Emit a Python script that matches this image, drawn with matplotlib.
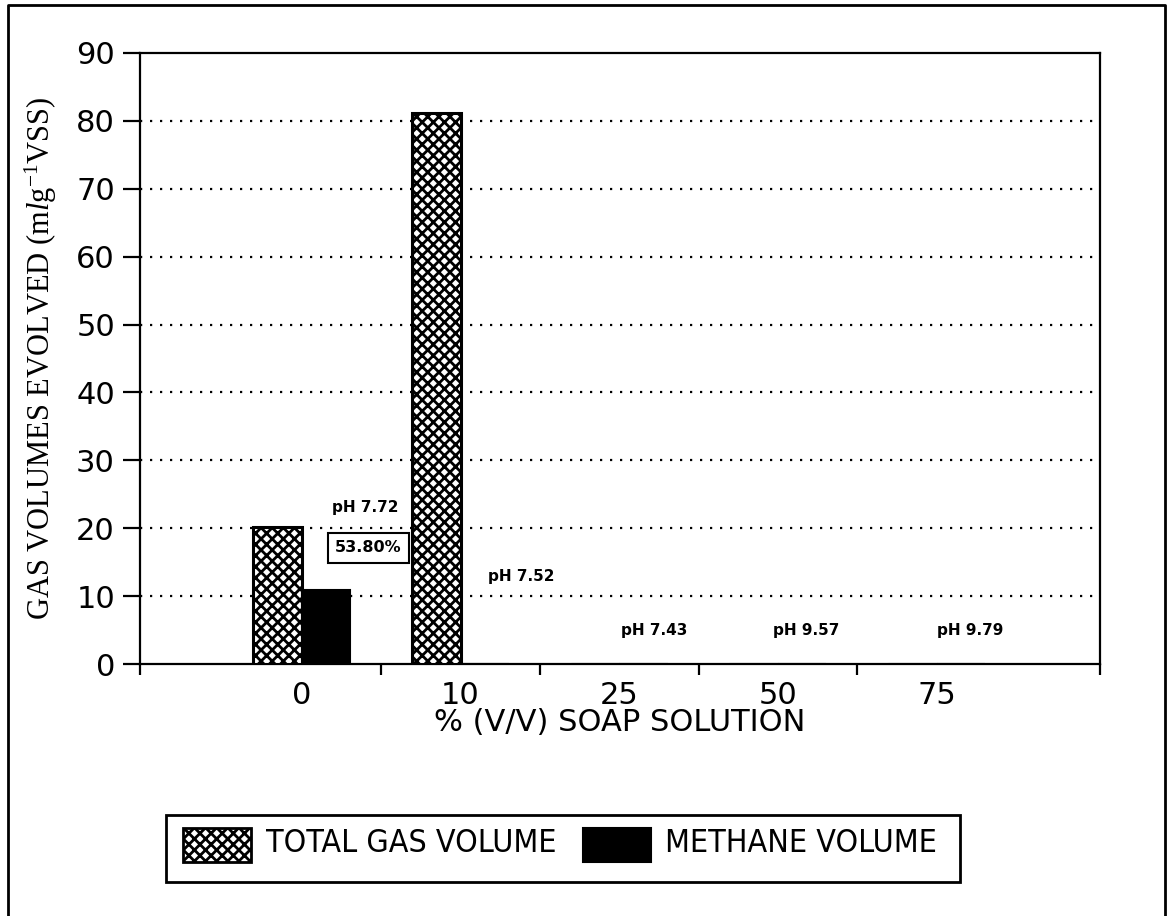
import matplotlib
matplotlib.use('Agg')
import matplotlib.pyplot as plt
from matplotlib.patches import Rectangle
from matplotlib.lines import Line2D
import numpy as np

# ---------------- data ----------------
categories = ['0', '10', '25', '50', '75']
total_gas = [20.2, 81.2, 0.0, 0.0, 0.0]
methane = [10.9, 0.0, 0.0, 0.0, 0.0]
ph_labels = ['pH 7.72', 'pH 7.52', 'pH 7.43', 'pH 9.57', 'pH 9.79']
methane_pct = '53.80%'
y_ticks = [0, 10, 20, 30, 40, 50, 60, 70, 80, 90]
legend_labels = ['TOTAL GAS VOLUME', 'METHANE VOLUME']

# annotation anchor positions (data units)
ph_pos = [(0.40, 23.0), (1.38, 12.9), (2.22, 5.0), (3.18, 5.0), (4.21, 5.0)]
pct_pos = (0.42, 17.1)

plt.rcParams['mathtext.fontset'] = 'custom'
plt.rcParams['mathtext.rm'] = 'Liberation Serif'
plt.rcParams['mathtext.it'] = 'Liberation Serif:italic'
plt.rcParams['hatch.linewidth'] = 2.0

W, H = 1174, 916
fig = plt.figure(figsize=(W / 100, H / 100), dpi=100)
ax = fig.add_axes([140 / W, 1 - 664 / H, 960 / W, 611 / H])

x = np.arange(len(categories))
w = 0.305
ax.bar(x - w / 2, total_gas, w, facecolor='white', edgecolor='black',
       hatch='xxx', linewidth=2.2, zorder=3)
ax.bar(x + w / 2, methane, w, facecolor='black', edgecolor='black',
       linewidth=1.5, zorder=3)

ax.set_xlim(-1.02, 5.03)
ax.set_ylim(0, 90)

# gridlines
for yv in y_ticks[1:-1]:
    ax.axhline(yv, color='black', linestyle=(0, (1, 3.5)), linewidth=1.6, zorder=1)

for s in ax.spines.values():
    s.set_linewidth(1.6)

ax.set_yticks(y_ticks)
ax.tick_params(axis='y', direction='out', length=12, width=1.6, labelsize=22, pad=6)
ax.set_xticks(x)
ax.set_xticklabels(categories)
ax.set_xticks([-1.02, 0.5, 1.5, 2.5, 3.5, 5.03], minor=True)
ax.tick_params(axis='x', which='major', length=0, labelsize=22, pad=12)
ax.tick_params(axis='x', which='minor', direction='out', length=8, width=1.6)

ax.set_xlabel('% (V/V) SOAP SOLUTION', fontsize=22, labelpad=-1)
ax.set_ylabel('GAS VOLUMES EVOLVED (m$\\mathit{l}$g$^{-1}$VSS)',
              family='Liberation Serif', fontsize=22, labelpad=12)

# pH annotations
for lab, (px, py) in zip(ph_labels, ph_pos):
    ax.text(px, py, lab, fontsize=11, fontweight='bold', ha='center', va='center', zorder=4)
ax.text(pct_pos[0], pct_pos[1], methane_pct, fontsize=11.5, fontweight='bold',
        ha='center', va='center', zorder=4,
        bbox=dict(boxstyle='square,pad=0.45', facecolor='white', edgecolor='black', linewidth=1.5))

# outer frame
fig.add_artist(Line2D([8 / W, 8 / W, 1165 / W, 1165 / W], [0, 1 - 5 / H, 1 - 5 / H, 0],
                      transform=fig.transFigure, color='black', linewidth=2))

# legend (manual)
def fx(px):
    return px / W

def fy(py):
    return 1 - py / H

fig.add_artist(Rectangle((fx(166), fy(882)), fx(960) - fx(166), fy(815) - fy(882),
                         transform=fig.transFigure, facecolor='white', edgecolor='black', linewidth=2))
fig.add_artist(Rectangle((fx(183), fy(862)), fx(251) - fx(183), fy(828) - fy(862),
                         transform=fig.transFigure, facecolor='white', edgecolor='black',
                         hatch='xxx', linewidth=2))
fig.add_artist(Rectangle((fx(583), fy(862)), fx(651) - fx(583), fy(828) - fy(862),
                         transform=fig.transFigure, facecolor='black', edgecolor='black', linewidth=1.5))
fig.text(fx(266), fy(844), legend_labels[0], family='DejaVu Sans', fontstretch='condensed',
         fontsize=23, ha='left', va='center')
fig.text(fx(665), fy(844), legend_labels[1], family='DejaVu Sans', fontstretch='condensed',
         fontsize=23, ha='left', va='center')

fig.savefig('out.png', dpi=100)
